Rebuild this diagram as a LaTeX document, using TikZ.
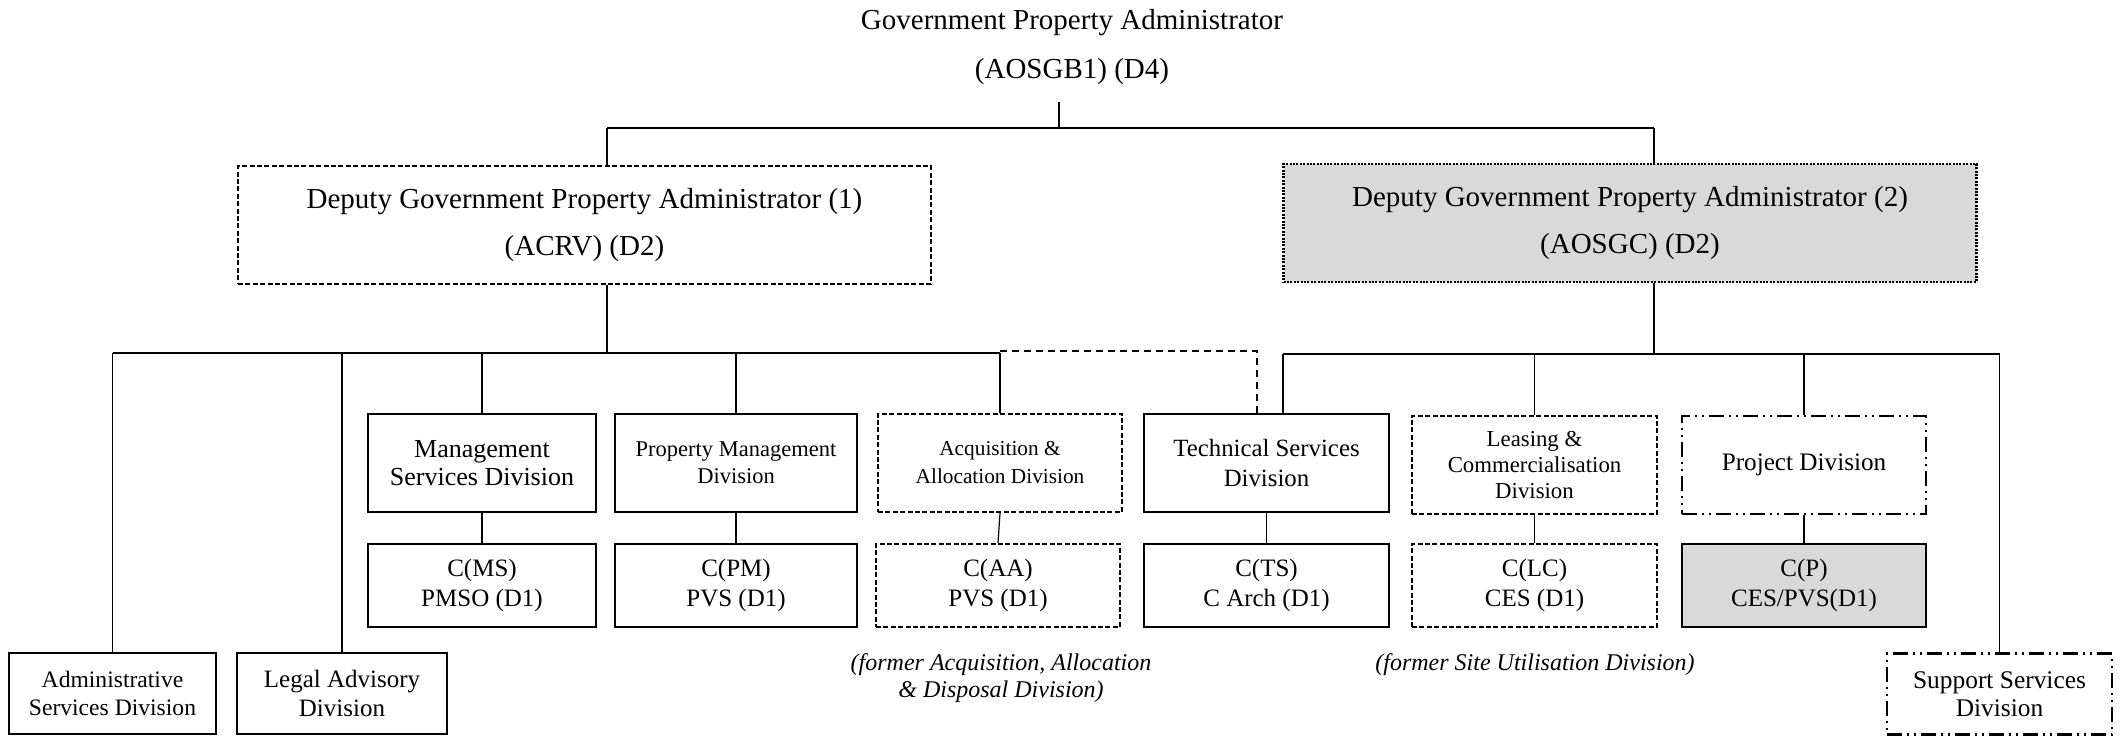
\documentclass[tikz,border=0pt]{standalone}
\usepackage{fontspec}
\setmainfont{Liberation Serif}
\definecolor{boxgray}{HTML}{D9D9D9}

\begin{document}
\begin{tikzpicture}[
		x=0.5pt, y=-0.5pt,
		link/.style={line width=0.6pt},
		bus/.style={line width=1pt},
		dashlink/.style={line width=0.6pt, dash pattern=on 3.5pt off 2.5pt},
		unit/.style={draw, line width=1.2pt, align=center, inner sep=0pt},
		dashedbox/.style={dash pattern=on 2.5pt off 1.2pt},
		dottedbox/.style={dash pattern=on 1pt off 0.7pt, line width=1.3pt},
		dashdotbox/.style={dash pattern=on 7.5pt off 2.5pt on 1pt off 2.5pt on 1pt off 2.5pt},
		deputy/.style={unit, minimum width=346.5pt, minimum height=59pt, font={\fontsize{14.5}{23.5}\selectfont}},
		division/.style={unit, minimum height=49pt},
		head/.style={unit, minimum height=41.5pt, font={\fontsize{12.5}{15}\selectfont}},
		other/.style={unit, minimum height=40.5pt},
		note/.style={align=center, font={\fontsize{12}{13.5}\selectfont\itshape}}
		]
		\useasboundingbox (0,0) rectangle (2125,737);
		
		% Top
		\node[align=center, inner sep=0pt, minimum height=55pt, font={\fontsize{14.5}{24.5}\selectfont}] (gpa) at (1072,47) {Government Property Administrator\\(AOSGB1) (D4)};
		\node[deputy, dashedbox] (dep1) at (584.5,225) {Deputy Government Property Administrator (1)\\(ACRV) (D2)};
		\node[deputy, dottedbox, fill=boxgray] (dep2) at (1630,223) {Deputy Government Property Administrator (2)\\(AOSGC) (D2)};
		
		% Divisions
		\node[division, minimum width=114pt, font={\fontsize{13}{14.2}\selectfont}] (ms) at (482,463) {Management\\Services Division};
		\node[division, minimum width=121pt, font={\fontsize{11.25}{13.5}\selectfont}] (pm) at (736,463) {Property Management\\Division};
		\node[division, dashedbox, minimum width=122pt, font={\fontsize{10.65}{14}\selectfont}] (aa) at (1000,463) {Acquisition \&\\Allocation Division};
		\node[division, minimum width=122.5pt, font={\fontsize{12.4}{15}\selectfont}] (ts) at (1266.5,463) {Technical Services\\Division};
		\node[division, dashedbox, minimum width=122.5pt, font={\fontsize{11.4}{12.9}\selectfont}] (lc) at (1534.5,465) {Leasing \&\\Commercialisation\\Division};
		\node[division, dashdotbox, minimum width=122pt, font={\fontsize{12.6}{15}\selectfont}] (pd) at (1804,465) {Project Division};
		
		% Heads of division
		\node[head, minimum width=114pt] (cms) at (482,585.5) {C(MS)\\PMSO (D1)};
		\node[head, minimum width=121pt] (cpm) at (736,585.5) {C(PM)\\PVS (D1)};
		\node[head, dashedbox, minimum width=122pt] (caa) at (998,585.5) {C(AA)\\PVS (D1)};
		\node[head, minimum width=122.5pt] (cts) at (1266.5,585.5) {C(TS)\\C Arch (D1)};
		\node[head, dashedbox, minimum width=122.5pt] (clc) at (1534.5,585.5) {C(LC)\\CES (D1)};
		\node[head, fill=boxgray, minimum width=122pt] (cp) at (1804,585.5) {C(P)\\CES/PVS(D1)};
		
		% Other divisions
		\node[other, minimum width=103.5pt, font={\fontsize{11.8}{14.2}\selectfont}] (admin) at (112.5,693.5) {Administrative\\Services Division};
		\node[other, minimum width=105pt, font={\fontsize{12.5}{14.2}\selectfont}] (legal) at (342,693.5) {Legal Advisory\\Division};
		\node[other, dashdotbox, minimum width=112.5pt, font={\fontsize{12.7}{14.2}\selectfont}] (sup) at (1999.5,694) {Support Services\\Division};
		
		% Notes
		\node[note] (note1) at (1001,678) {(former Acquisition, Allocation\\\& Disposal Division)};
		\node[note] (note2) at (1535,665) {(former Site Utilisation Division)};
		
		% Connectors
		\coordinate (top) at (1059,128);
		\coordinate (lj) at (607,353);
		\coordinate (rj) at (1654,354);
		
		\draw[link] (top |- gpa.south) -- (top);
		\draw[bus] (lj |- top) -- (rj |- top);
		\draw[link] (lj |- top) -- (lj |- dep1.north);
		\draw[link] (rj |- top) -- (rj |- dep2.north);
		\draw[link] (lj |- dep1.south) -- (lj);
		\draw[link] (rj |- dep2.south) -- (rj);
		
		% Left branch
		\draw[bus] (admin.north |- lj) -- (aa.north |- lj);
		\foreach \unit in {admin, legal, ms, pm, aa}
			\draw[link] (\unit.north |- lj) -- (\unit.north);
		\draw[dashlink] ([yshift=1pt]aa.north |- lj) -| ([xshift=-4.75pt]ts.north);
		
		% Right branch
		\draw[bus] ([xshift=8.25pt]ts.north |- rj) -- (sup.north |- rj);
		\draw[link] ([xshift=8.25pt]ts.north |- rj) -- ([xshift=8.25pt]ts.north);
		\foreach \unit in {lc, pd, sup}
			\draw[link] (\unit.north |- rj) -- (\unit.north);
		
		% Divisions to heads
		\foreach \a/\b in {ms/cms, pm/cpm, aa/caa, ts/cts, lc/clc, pd/cp}
			\draw[link] (\a.south) -- (\b.north);
		
	\end{tikzpicture}
\end{document}
